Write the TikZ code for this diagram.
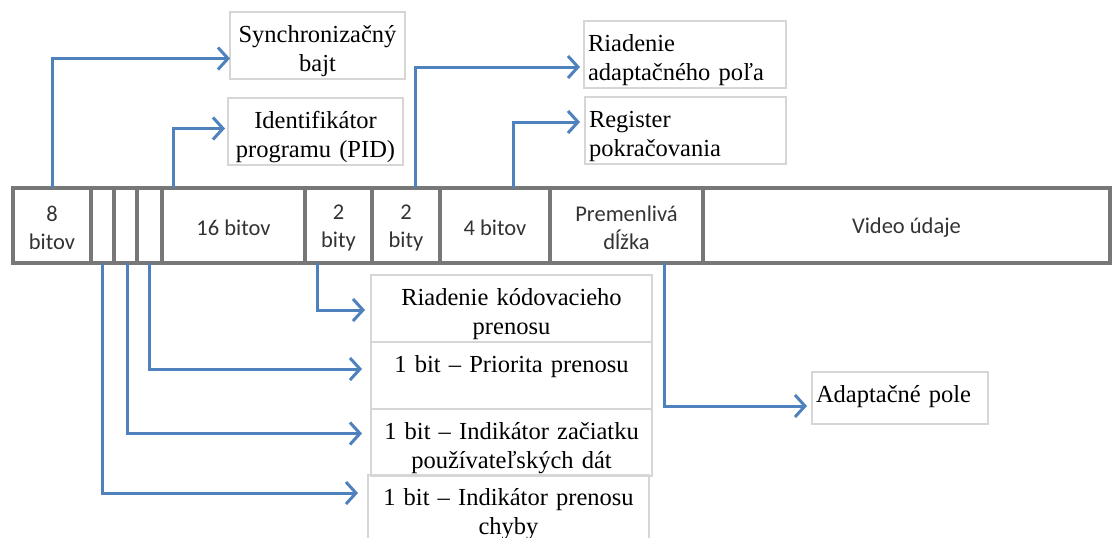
\documentclass[tikz,border=0pt]{standalone}
\usepackage{fontspec}
\setmainfont{Liberation Serif}
\newfontfamily\cellfont{Carlito}
\usepackage{tikz}
\usetikzlibrary{positioning,arrows.meta}
\definecolor{barGrey}{HTML}{777777}
\definecolor{boxGrey}{HTML}{d6d6d6}
\definecolor{cellInk}{HTML}{333333}
\definecolor{labelInk}{HTML}{000000}
\definecolor{arrowBlue}{HTML}{4f81bd}

\tikzset{
  cell/.style={draw=barGrey,line width=3.2pt,minimum height=75pt,inner sep=0pt,
               outer sep=0pt,anchor=north west},
  cellText/.style={font=\cellfont\fontsize{22.5}{28}\selectfont,text=cellInk,
                   align=center,inner sep=0pt,yshift=-2.5pt},
  infoBox/.style={draw=boxGrey,line width=1.2pt,anchor=north west,outer sep=0pt,
                  inner xsep=4pt,inner ysep=6pt,text height=24pt,text depth=31pt,
                  font=\fontsize{24.5}{29}\selectfont,text=labelInk,align=center},
  arrowLine/.style={draw=arrowBlue,line width=3pt,
                    -{Straight Barb[length=10pt,width=22pt]}}
}

\begin{document}
\begin{tikzpicture}[x=1pt,y=-1pt]
\useasboundingbox (0,0) rectangle (1114,538);

% packet header bar
\node[cell,minimum width=78pt,label={[cellText]center:{8\\bitov}}] (cSync) at (13,188) {};
\node[cell,minimum width=23pt,right=0pt of cSync] (cErr) {};
\node[cell,minimum width=23pt,right=0pt of cErr] (cStart) {};
\node[cell,minimum width=25pt,right=0pt of cStart] (cPrio) {};
\node[cell,minimum width=143pt,right=0pt of cPrio,label={[cellText]center:{16 bitov}}] (cPid) {};
\node[cell,minimum width=67pt,right=0pt of cPid,label={[cellText]center:{2\\bity}}] (cScram) {};
\node[cell,minimum width=68pt,right=0pt of cScram,label={[cellText]center:{2\\bity}}] (cAdapt) {};
\node[cell,minimum width=110pt,right=0pt of cAdapt,label={[cellText]center:{4 bitov}}] (cCont) {};
\node[cell,minimum width=153pt,right=0pt of cCont,label={[cellText]center:{Premenlivá\\dĺžka}}] (cVar) {};
\node[cell,minimum width=407pt,right=0pt of cVar,label={[cellText]center:{Video údaje}}] (cVideo) {};

% field descriptions
\node[infoBox,text width=167pt] (bSync) at (230,12) {Synchronizačný\\bajt};
\node[infoBox,text width=167pt] (bPid) at (228,98) {Identifikátor\\programu (PID)};
\node[infoBox,text width=194pt,align=left] (bAdapt) at (584,21) {Riadenie\\adaptačného poľa};
\node[infoBox,text width=193pt,align=left] (bCont) at (585,97) {Register\\pokračovania};
\node[infoBox,text width=273pt] (bScram) at (371,275) {Riadenie kódovacieho\\prenosu};
\node[infoBox,text width=273pt] (bPrio) at (371,342) {1 bit – Priorita prenosu};
\node[infoBox,text width=273pt] (bStart) at (371,409) {1 bit – Indikátor začiatku\\používateľských dát};
\node[infoBox,text width=273pt] (bErr) at (368,475) {1 bit – Indikátor prenosu\\chyby};
\node[infoBox,text width=168pt,align=left,text depth=16pt] (bField) at (812,372) {Adaptačné pole};

% connectors
\draw[arrowLine] (cSync.north) |- ([yshift=-13pt]bSync.west);
\draw[arrowLine] ([xshift=11pt]cPid.north west) |- ([xshift=-3pt,yshift=3pt]bPid.west);
\draw[arrowLine] ([xshift=43pt]cAdapt.north west) |- ([xshift=-4pt,yshift=-12.5pt]bAdapt.west);
\draw[arrowLine] ([xshift=73pt]cCont.north west) |- ([xshift=-5pt,yshift=8.5pt]bCont.west);
\draw[arrowLine] ([xshift=12pt]cScram.south west) |- ([xshift=-6pt,yshift=-1.5pt]bScram.west);
\draw[arrowLine] (cPrio.south) |- ([xshift=-9pt,yshift=6.5pt]bPrio.west);
\draw[arrowLine] ([xshift=1.5pt]cStart.south) |- ([xshift=-9pt,yshift=9pt]bStart.west);
\draw[arrowLine] (cErr.south) |- ([xshift=-10pt,yshift=15.5pt]bErr.west);
\draw[arrowLine] ([xshift=114pt]cVar.south west) |- ([xshift=-5pt,yshift=-8pt]bField.west);
\end{tikzpicture}
\end{document}
